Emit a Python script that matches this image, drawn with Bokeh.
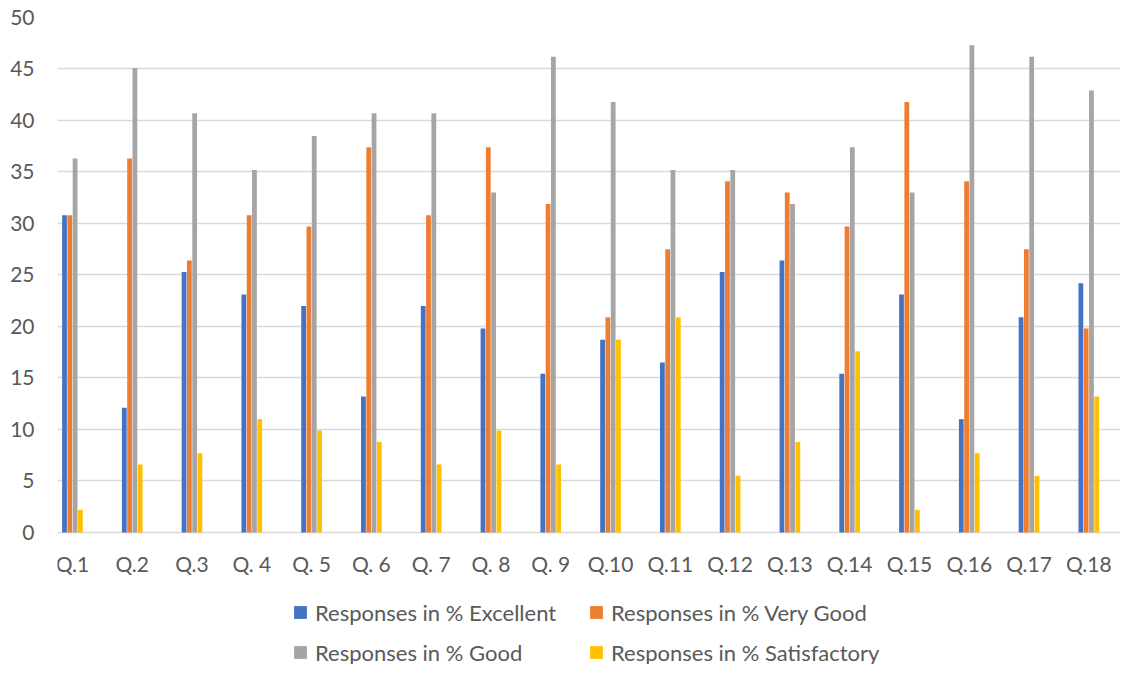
from bokeh.plotting import figure
from bokeh.models import ColumnDataSource, Range1d, FixedTicker, Legend, LegendItem
from bokeh.transform import dodge
from bokeh.core.properties import value
from bokeh.embed import file_html
from bokeh.resources import INLINE

questions = ["Q.1", "Q.2", "Q.3", "Q. 4", "Q. 5", "Q. 6", "Q. 7", "Q. 8", "Q. 9",
             "Q.10", "Q.11", "Q.12", "Q.13", "Q.14", "Q.15", "Q.16", "Q.17", "Q.18"]
excellent = [30.8, 12.1, 25.3, 23.1, 22.0, 13.2, 22.0, 19.8, 15.4,
             18.7, 16.5, 25.3, 26.4, 15.4, 23.1, 11.0, 20.9, 24.2]
very_good = [30.8, 36.3, 26.4, 30.8, 29.7, 37.4, 30.8, 37.4, 31.9,
             20.9, 27.5, 34.1, 33.0, 29.7, 41.8, 34.1, 27.5, 19.8]
good = [36.3, 45.1, 40.7, 35.2, 38.5, 40.7, 40.7, 33.0, 46.2,
        41.8, 35.2, 35.2, 31.9, 37.4, 33.0, 47.3, 46.2, 42.9]
satisfactory = [2.2, 6.6, 7.7, 11.0, 9.9, 8.8, 6.6, 9.9, 6.6,
                18.7, 20.9, 5.5, 8.8, 17.6, 2.2, 7.7, 5.5, 13.2]
y_ticks = [0, 5, 10, 15, 20, 25, 30, 35, 40, 45, 50]
series_names = ["Responses in % Excellent", "Responses in % Very Good",
                "Responses in % Good", "Responses in % Satisfactory"]
colors = ["#4472C4", "#ED7D31", "#A5A5A5", "#FFC000"]

FONT = "Lato"
TEXT = "#595959"

idx = list(range(len(questions)))
src = ColumnDataSource(dict(x=idx, q=questions, zero=[0] * len(idx),
                            excellent=excellent, very_good=very_good,
                            good=good, satisfactory=satisfactory))

p = figure(width=1120, height=664, output_backend="svg", toolbar_location=None,
           x_range=Range1d(-0.25, 17.53), y_range=Range1d(-12.82, 50),
           x_axis_location=None)
p.min_border_left = 57
p.min_border_right = 0
p.min_border_top = 17
p.min_border_bottom = 0
p.outline_line_color = None
p.background_fill_color = "white"
p.border_fill_color = "white"

pitch = 0.0886
bw = 0.080
offsets = [-1.5 * pitch, -0.5 * pitch, 0.5 * pitch, 1.5 * pitch]
fields = ["excellent", "very_good", "good", "satisfactory"]
renderers = []
for f, off, c in zip(fields, offsets, colors):
    r = p.vbar(x=dodge("x", off), top=f, width=bw, bottom=0, source=src,
               fill_color=c, line_color=None)
    renderers.append(r)

# category labels under each group
p.text(x="x", y="zero", text="q", source=src, text_align="center",
       text_baseline="middle", y_offset=31, text_font=value(FONT),
       text_font_size=value("21px"), text_color=TEXT)

p.xgrid.visible = False
p.ygrid.grid_line_color = "#D9D9D9"
p.ygrid.grid_line_width = 1.3
p.yaxis.ticker = FixedTicker(ticks=y_ticks)
ax = p.yaxis[0]
ax.axis_line_color = None
ax.major_tick_line_color = None
ax.minor_tick_line_color = None
ax.major_tick_out = 0
ax.major_tick_in = 0
ax.major_label_text_font = FONT
ax.major_label_text_font_size = "21px"
ax.major_label_text_color = TEXT
ax.major_label_standoff = 23

legend = Legend(items=[LegendItem(label=n, renderers=[r]) for n, r in zip(series_names, renderers)],
                ncols=2, location=(235, -6), orientation="horizontal")
legend.glyph_width = 16
legend.glyph_height = 16
legend.label_standoff = 7
legend.label_width = 269
legend.label_height = 36
legend.spacing = 4
legend.padding = 0
legend.margin = 0
legend.border_line_color = None
legend.background_fill_alpha = 0
legend.label_text_font = FONT
legend.label_text_font_size = "22px"
legend.label_text_color = TEXT
p.add_layout(legend, "center")

open("out.html", "w").write(file_html(p, INLINE))
